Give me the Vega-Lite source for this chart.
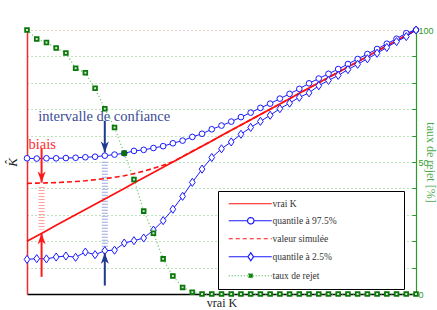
{
  "$schema": "https://vega.github.io/schema/vega-lite/v6.json",
  "width": 389,
  "height": 264,
  "autosize": {"type": "none"},
  "padding": {"left": 27, "top": 30, "right": 21, "bottom": 16},
  "background": "white",
  "config": {
    "view": {"stroke": null},
    "axisX": {"labels": false, "ticks": false, "grid": false, "domainColor": "black", "domainWidth": 1.3, "titleFont": "Liberation Serif, serif", "titleFontSize": 12, "titleFontWeight": "normal", "titleColor": "#222", "titlePadding": 3},
    "axisLeft": {"labels": false, "ticks": false, "grid": false, "domainColor": "#ee2a2a", "domainWidth": 1.5, "titleFont": "Liberation Serif, serif", "titleFontStyle": "italic", "titleFontSize": 13, "titleFontWeight": "normal", "titleColor": "#222", "titlePadding": 8}
  },
  "datasets": {
    "curves": [
      {"K": 20, "vrai": 20, "q975": 51.4, "sim": 41.9, "q025": 13.1, "rejet": 100},
      {"K": 22, "vrai": 22, "q975": 51.3, "sim": 42.0, "q025": 13.4, "rejet": 96.6},
      {"K": 24, "vrai": 24, "q975": 51.4, "sim": 42.1, "q025": 13.3, "rejet": 95.3},
      {"K": 26, "vrai": 26, "q975": 51.4, "sim": 42.2, "q025": 14.0, "rejet": 93.2},
      {"K": 28, "vrai": 28, "q975": 51.5, "sim": 42.4, "q025": 14.4, "rejet": 91.3},
      {"K": 30, "vrai": 30, "q975": 51.6, "sim": 42.6, "q025": 13.9, "rejet": 85.5},
      {"K": 32, "vrai": 32, "q975": 51.8, "sim": 42.9, "q025": 15.9, "rejet": 83.8},
      {"K": 34, "vrai": 34, "q975": 52.0, "sim": 43.3, "q025": 14.9, "rejet": 77.9},
      {"K": 36, "vrai": 36, "q975": 52.4, "sim": 43.7, "q025": 16.4, "rejet": 70.2},
      {"K": 38, "vrai": 38, "q975": 52.8, "sim": 44.2, "q025": 16.6, "rejet": 63.1},
      {"K": 40, "vrai": 40, "q975": 53.3, "sim": 44.8, "q025": 19.3, "rejet": 53.3},
      {"K": 42, "vrai": 42, "q975": 54.2, "sim": 45.6, "q025": 20.2, "rejet": 43.4},
      {"K": 44, "vrai": 44, "q975": 54.6, "sim": 46.5, "q025": 21.2, "rejet": 31.4},
      {"K": 46, "vrai": 46, "q975": 55.3, "sim": 47.6, "q025": 24.2, "rejet": 23.0},
      {"K": 48, "vrai": 48, "q975": 56.0, "sim": 48.8, "q025": 27.8, "rejet": 13.3},
      {"K": 50, "vrai": 50, "q975": 57.1, "sim": 50.1, "q025": 32.1, "rejet": 6.8},
      {"K": 52, "vrai": 52, "q975": 58.1, "sim": 52.1, "q025": 37.0, "rejet": 2.5},
      {"K": 54, "vrai": 54, "q975": 59.5, "sim": 54.1, "q025": 42.3, "rejet": 0.7},
      {"K": 56, "vrai": 56, "q975": 60.7, "sim": 56.0, "q025": 47.3, "rejet": 0},
      {"K": 58, "vrai": 58, "q975": 62.4, "sim": 58.0, "q025": 51.7, "rejet": 0},
      {"K": 60, "vrai": 60, "q975": 63.8, "sim": 60.0, "q025": 55.0, "rejet": 0},
      {"K": 62, "vrai": 62, "q975": 65.3, "sim": 62.0, "q025": 57.6, "rejet": 0},
      {"K": 64, "vrai": 64, "q975": 67.0, "sim": 64.0, "q025": 60.5, "rejet": 0},
      {"K": 66, "vrai": 66, "q975": 68.7, "sim": 66.0, "q025": 63.1, "rejet": 0},
      {"K": 68, "vrai": 68, "q975": 70.5, "sim": 68.0, "q025": 65.4, "rejet": 0},
      {"K": 70, "vrai": 70, "q975": 72.1, "sim": 70.0, "q025": 67.7, "rejet": 0},
      {"K": 72, "vrai": 72, "q975": 74.0, "sim": 72.0, "q025": 70.2, "rejet": 0},
      {"K": 74, "vrai": 74, "q975": 75.8, "sim": 74.0, "q025": 72.3, "rejet": 0},
      {"K": 76, "vrai": 76, "q975": 77.7, "sim": 76.0, "q025": 74.5, "rejet": 0},
      {"K": 78, "vrai": 78, "q975": 79.8, "sim": 78.0, "q025": 76.2, "rejet": 0},
      {"K": 80, "vrai": 80, "q975": 81.6, "sim": 80.0, "q025": 78.9, "rejet": 0},
      {"K": 82, "vrai": 82, "q975": 83.4, "sim": 82.0, "q025": 80.9, "rejet": 0},
      {"K": 84, "vrai": 84, "q975": 85.2, "sim": 84.0, "q025": 82.8, "rejet": 0},
      {"K": 86, "vrai": 86, "q975": 87.1, "sim": 86.0, "q025": 85.0, "rejet": 0},
      {"K": 88, "vrai": 88, "q975": 89.0, "sim": 88.0, "q025": 87.0, "rejet": 0},
      {"K": 90, "vrai": 90, "q975": 90.9, "sim": 90.0, "q025": 89.1, "rejet": 0},
      {"K": 92, "vrai": 92, "q975": 92.8, "sim": 92.0, "q025": 91.2, "rejet": 0},
      {"K": 94, "vrai": 94, "q975": 94.8, "sim": 94.0, "q025": 93.4, "rejet": 0},
      {"K": 96, "vrai": 96, "q975": 96.7, "sim": 96.0, "q025": 95.6, "rejet": 0},
      {"K": 98, "vrai": 98, "q975": 98.8, "sim": 98.0, "q025": 97.5, "rejet": 0},
      {"K": 100, "vrai": 100, "q975": 100, "sim": 100, "q025": 100, "rejet": 0}
    ],
    "legend": [
      {"s": "vrai K"},
      {"s": "quantile à 97.5%"},
      {"s": "valeur simulée"},
      {"s": "quantile à 2.5%"},
      {"s": "taux de rejet"}
    ],
    "arrows": [
      {"g": "ic", "dir": "down", "K": 36, "from": 65.6, "to": 53.6},
      {"g": "ic", "dir": "up", "K": 36, "from": 3.2, "to": 15.6},
      {"g": "biais", "dir": "down", "K": 23, "from": 54.9, "to": 42.2},
      {"g": "biais", "dir": "up", "K": 23, "from": 6.5, "to": 23.0}
    ],
    "hatch": [
      {"g": "ic", "K": 36, "from": 50.1, "to": 16.9},
      {"g": "biais", "K": 23, "from": 40.5, "to": 24.4}
    ],
    "notes": [
      {"g": "ic", "K": 22.3, "v": 65.6, "text": "intervalle de confiance"},
      {"g": "biais", "K": 20.3, "v": 54.9, "text": "biais"}
    ]
  },
  "resolve": {"scale": {"y": "independent"}},
  "layer": [
    {
      "layer": [
        {
          "data": {"name": "hatch"},
          "transform": [{"filter": "datum.g === 'ic'"}],
          "mark": {"type": "rule", "color": "#9aa6dc", "strokeWidth": 6, "strokeDash": [1, 2]},
          "encoding": {
            "x": {"field": "K", "type": "quantitative", "scale": {"domain": [20, 100], "nice": false, "zero": false}, "title": "vrai K"},
            "y": {"field": "from", "type": "quantitative", "scale": {"domain": [0, 100], "nice": false}, "title": "K\u0302"},
            "y2": {"field": "to"}
          }
        },
        {
          "data": {"name": "hatch"},
          "transform": [{"filter": "datum.g === 'biais'"}],
          "mark": {"type": "rule", "color": "#ffa0a0", "strokeWidth": 6, "strokeDash": [1, 2]},
          "encoding": {
            "x": {"field": "K", "type": "quantitative", "title": "vrai K"},
            "y": {"field": "from", "type": "quantitative", "title": "K\u0302"},
            "y2": {"field": "to"}
          }
        },
        {
          "data": {"name": "curves"},
          "mark": {"type": "line", "color": "#ff1010", "strokeWidth": 1.7},
          "encoding": {
            "x": {"field": "K", "type": "quantitative", "title": "vrai K"},
            "y": {"field": "vrai", "type": "quantitative", "title": "K\u0302"}
          }
        },
        {
          "data": {"name": "curves"},
          "mark": {"type": "line", "color": "#ff1010", "strokeWidth": 1.6, "strokeDash": [5, 3]},
          "encoding": {
            "x": {"field": "K", "type": "quantitative", "title": "vrai K"},
            "y": {"field": "sim", "type": "quantitative", "title": "K\u0302"}
          }
        },
        {
          "data": {"name": "curves"},
          "mark": {"type": "line", "color": "#1a1aff", "strokeWidth": 1},
          "encoding": {
            "x": {"field": "K", "type": "quantitative", "title": "vrai K"},
            "y": {"field": "q975", "type": "quantitative", "title": "K\u0302"}
          }
        },
        {
          "data": {"name": "curves"},
          "mark": {"type": "point", "shape": "circle", "size": 32, "filled": false, "fill": "white", "fillOpacity": 1, "stroke": "#1a1aff", "strokeWidth": 1, "opacity": 1},
          "encoding": {
            "x": {"field": "K", "type": "quantitative", "title": "vrai K"},
            "y": {"field": "q975", "type": "quantitative", "title": "K\u0302"}
          }
        },
        {
          "data": {"name": "curves"},
          "mark": {"type": "line", "color": "#1a1aff", "strokeWidth": 1},
          "encoding": {
            "x": {"field": "K", "type": "quantitative", "title": "vrai K"},
            "y": {"field": "q025", "type": "quantitative", "title": "K\u0302"}
          }
        },
        {
          "data": {"name": "curves"},
          "mark": {"type": "point", "shape": "M0,-1.35L0.95,0L0,1.35L-0.95,0Z", "size": 36, "filled": false, "fill": "white", "fillOpacity": 1, "stroke": "#1a1aff", "strokeWidth": 1, "opacity": 1},
          "encoding": {
            "x": {"field": "K", "type": "quantitative", "title": "vrai K"},
            "y": {"field": "q025", "type": "quantitative", "title": "K\u0302"}
          }
        },
        {
          "data": {"name": "arrows"},
          "transform": [{"filter": "datum.g === 'ic'"}],
          "mark": {"type": "rule", "color": "#1f3a8f", "strokeWidth": 2},
          "encoding": {
            "x": {"field": "K", "type": "quantitative", "title": "vrai K"},
            "y": {"field": "from", "type": "quantitative", "title": "K\u0302"},
            "y2": {"field": "to"}
          }
        },
        {
          "data": {"name": "arrows"},
          "transform": [{"filter": "datum.g === 'biais'"}],
          "mark": {"type": "rule", "color": "#ff1a1a", "strokeWidth": 2},
          "encoding": {
            "x": {"field": "K", "type": "quantitative", "title": "vrai K"},
            "y": {"field": "from", "type": "quantitative", "title": "K\u0302"},
            "y2": {"field": "to"}
          }
        },
        {
          "data": {"name": "arrows"},
          "transform": [{"filter": "datum.g === 'ic' && datum.dir === 'down'"}],
          "mark": {"type": "point", "shape": "M0,0L-0.8,-2.2L0,-1.6L0.8,-2.2Z", "size": 100, "filled": true, "color": "#1f3a8f", "opacity": 1, "strokeWidth": 0},
          "encoding": {
            "x": {"field": "K", "type": "quantitative", "title": "vrai K"},
            "y": {"field": "to", "type": "quantitative", "title": "K\u0302"}
          }
        },
        {
          "data": {"name": "arrows"},
          "transform": [{"filter": "datum.g === 'ic' && datum.dir === 'up'"}],
          "mark": {"type": "point", "shape": "M0,0L-0.8,2.2L0,1.6L0.8,2.2Z", "size": 100, "filled": true, "color": "#1f3a8f", "opacity": 1, "strokeWidth": 0},
          "encoding": {
            "x": {"field": "K", "type": "quantitative", "title": "vrai K"},
            "y": {"field": "to", "type": "quantitative", "title": "K\u0302"}
          }
        },
        {
          "data": {"name": "arrows"},
          "transform": [{"filter": "datum.g === 'biais' && datum.dir === 'down'"}],
          "mark": {"type": "point", "shape": "M0,0L-0.8,-2.2L0,-1.6L0.8,-2.2Z", "size": 100, "filled": true, "color": "#ff1a1a", "opacity": 1, "strokeWidth": 0},
          "encoding": {
            "x": {"field": "K", "type": "quantitative", "title": "vrai K"},
            "y": {"field": "to", "type": "quantitative", "title": "K\u0302"}
          }
        },
        {
          "data": {"name": "arrows"},
          "transform": [{"filter": "datum.g === 'biais' && datum.dir === 'up'"}],
          "mark": {"type": "point", "shape": "M0,0L-0.8,2.2L0,1.6L0.8,2.2Z", "size": 100, "filled": true, "color": "#ff1a1a", "opacity": 1, "strokeWidth": 0},
          "encoding": {
            "x": {"field": "K", "type": "quantitative", "title": "vrai K"},
            "y": {"field": "to", "type": "quantitative", "title": "K\u0302"}
          }
        },
        {
          "data": {"name": "notes"},
          "transform": [{"filter": "datum.g === 'ic'"}],
          "mark": {"type": "text", "align": "left", "baseline": "alphabetic", "font": "Liberation Serif, serif", "fontSize": 14.5, "color": "#3c4b96"},
          "encoding": {
            "x": {"field": "K", "type": "quantitative", "title": "vrai K"},
            "y": {"field": "v", "type": "quantitative", "title": "K\u0302"},
            "text": {"field": "text"}
          }
        },
        {
          "data": {"name": "notes"},
          "transform": [{"filter": "datum.g === 'biais'"}],
          "mark": {"type": "text", "align": "left", "baseline": "alphabetic", "font": "Liberation Serif, serif", "fontSize": 14.5, "color": "#ff2a2a"},
          "encoding": {
            "x": {"field": "K", "type": "quantitative", "title": "vrai K"},
            "y": {"field": "v", "type": "quantitative", "title": "K\u0302"},
            "text": {"field": "text"}
          }
        },
        {
          "data": {"name": "legend"},
          "mark": {"type": "point", "size": 0},
          "encoding": {
            "shape": {
              "field": "s", "type": "nominal",
              "scale": {"domain": ["vrai K", "quantile à 97.5%", "valeur simulée", "quantile à 2.5%", "taux de rejet"],
                        "range": ["M-1,0H20.5", "M-1,0H8.4M11.6,0H20.5M8.4,0A1.6,1.6,0,1,1,11.6,0A1.6,1.6,0,1,1,8.4,0Z", "M-1,0H20.5", "M-1,0H8.6M11.4,0H20.5M10,-2L11.4,0L10,2L8.6,0Z", "M-1,0H20.5M9,-1H11V1H9Z"]},
              "legend": {"orient": "none", "legendX": 191, "legendY": 161, "title": null, "symbolSize": 16, "symbolStrokeWidth": 1.2, "symbolFillColor": "white", "symbolOpacity": 1, "labelFont": "Liberation Serif, serif", "labelFontSize": 9.5, "labelColor": "#333", "labelOffset": 37, "labelLimit": 400, "rowPadding": 6, "padding": 8, "strokeColor": "black", "fillColor": "white", "labelExpr": "datum.label + '                         \u200b'"}
            },
            "stroke": {
              "field": "s", "type": "nominal",
              "scale": {"domain": ["vrai K", "quantile à 97.5%", "valeur simulée", "quantile à 2.5%", "taux de rejet"],
                        "range": ["#ff1010", "#1a1aff", "#ff1010", "#1a1aff", "#3aaa3a"]},
              "legend": {"orient": "none", "legendX": 191, "legendY": 161, "title": null, "symbolSize": 16, "symbolStrokeWidth": 1.2, "symbolFillColor": "white", "symbolOpacity": 1, "labelFont": "Liberation Serif, serif", "labelFontSize": 9.5, "labelColor": "#333", "labelOffset": 37, "labelLimit": 400, "rowPadding": 6, "padding": 8, "strokeColor": "black", "fillColor": "white", "labelExpr": "datum.label + '                         \u200b'"}
            },
            "fill": {
              "field": "s", "type": "nominal",
              "scale": {"domain": ["vrai K", "quantile à 97.5%", "valeur simulée", "quantile à 2.5%", "taux de rejet"],
                        "range": ["white", "white", "white", "white", "#0b7d0b"]},
              "legend": {"orient": "none", "legendX": 191, "legendY": 161, "title": null, "symbolSize": 16, "symbolStrokeWidth": 1.2, "symbolFillColor": "white", "symbolOpacity": 1, "labelFont": "Liberation Serif, serif", "labelFontSize": 9.5, "labelColor": "#333", "labelOffset": 37, "labelLimit": 400, "rowPadding": 6, "padding": 8, "strokeColor": "black", "fillColor": "white", "labelExpr": "datum.label + '                         \u200b'"}
            },
            "strokeDash": {
              "field": "s", "type": "nominal",
              "scale": {"domain": ["vrai K", "quantile à 97.5%", "valeur simulée", "quantile à 2.5%", "taux de rejet"],
                        "range": [[1, 0], [1, 0], [4, 3], [1, 0], [1, 2]]},
              "legend": {"orient": "none", "legendX": 191, "legendY": 161, "title": null, "symbolSize": 16, "symbolStrokeWidth": 1.2, "symbolFillColor": "white", "symbolOpacity": 1, "labelFont": "Liberation Serif, serif", "labelFontSize": 9.5, "labelColor": "#333", "labelOffset": 37, "labelLimit": 400, "rowPadding": 6, "padding": 8, "strokeColor": "black", "fillColor": "white", "labelExpr": "datum.label + '                         \u200b'"}
            }
          }
        }
      ]
    },
    {
      "data": {"name": "curves"},
      "encoding": {
        "x": {"field": "K", "type": "quantitative", "title": "vrai K"},
        "y": {
          "field": "rejet", "type": "quantitative",
          "scale": {"domain": [0, 100], "nice": false},
          "title": "taux de rejet [%]",
          "axis": {
            "orient": "right",
            "values": [0, 10, 20, 30, 40, 50, 60, 70, 80, 90, 100],
            "labelExpr": "datum.value % 50 === 0 ? datum.label : ''",
            "grid": true,
            "gridColor": {"condition": {"test": "datum.value === 100", "value": "#e89a9a"}, "value": "#7fc77f"},
            "gridDash": [1, 3],
            "gridWidth": 1,
            "domainColor": "#2a9a2a",
            "domainWidth": 1.2,
            "tickColor": "#2a9a2a",
            "tickSize": -4,
            "tickWidth": 1,
            "labelColor": "#2a9a2a",
            "labelFont": "Liberation Sans",
            "labelFontSize": 9,
            "labelPadding": 6,
            "titleColor": "#4aaa4a",
            "titleFont": "Liberation Serif, serif",
            "titleFontSize": 12,
            "titleFontWeight": "normal",
            "titleX": 14,
            "titleY": 132,
            "titleAngle": 90,
            "titleBaseline": "middle",
            "titleAlign": "center"
          }
        }
      },
      "layer": [
        {"mark": {"type": "line", "color": "#66c266", "strokeWidth": 1.3, "strokeDash": [1, 2.5]}},
        {"mark": {"type": "point", "shape": "square", "size": 14, "filled": false, "fill": "#cfe8cf", "fillOpacity": 1, "stroke": "#0a780a", "strokeWidth": 1.8, "opacity": 1}},
        {
          "transform": [{"filter": "datum.K === 40"}],
          "mark": {"type": "point", "shape": "circle", "size": 30, "filled": true, "color": "#0b6e0b", "opacity": 1}
        }
      ]
    }
  ]
}
